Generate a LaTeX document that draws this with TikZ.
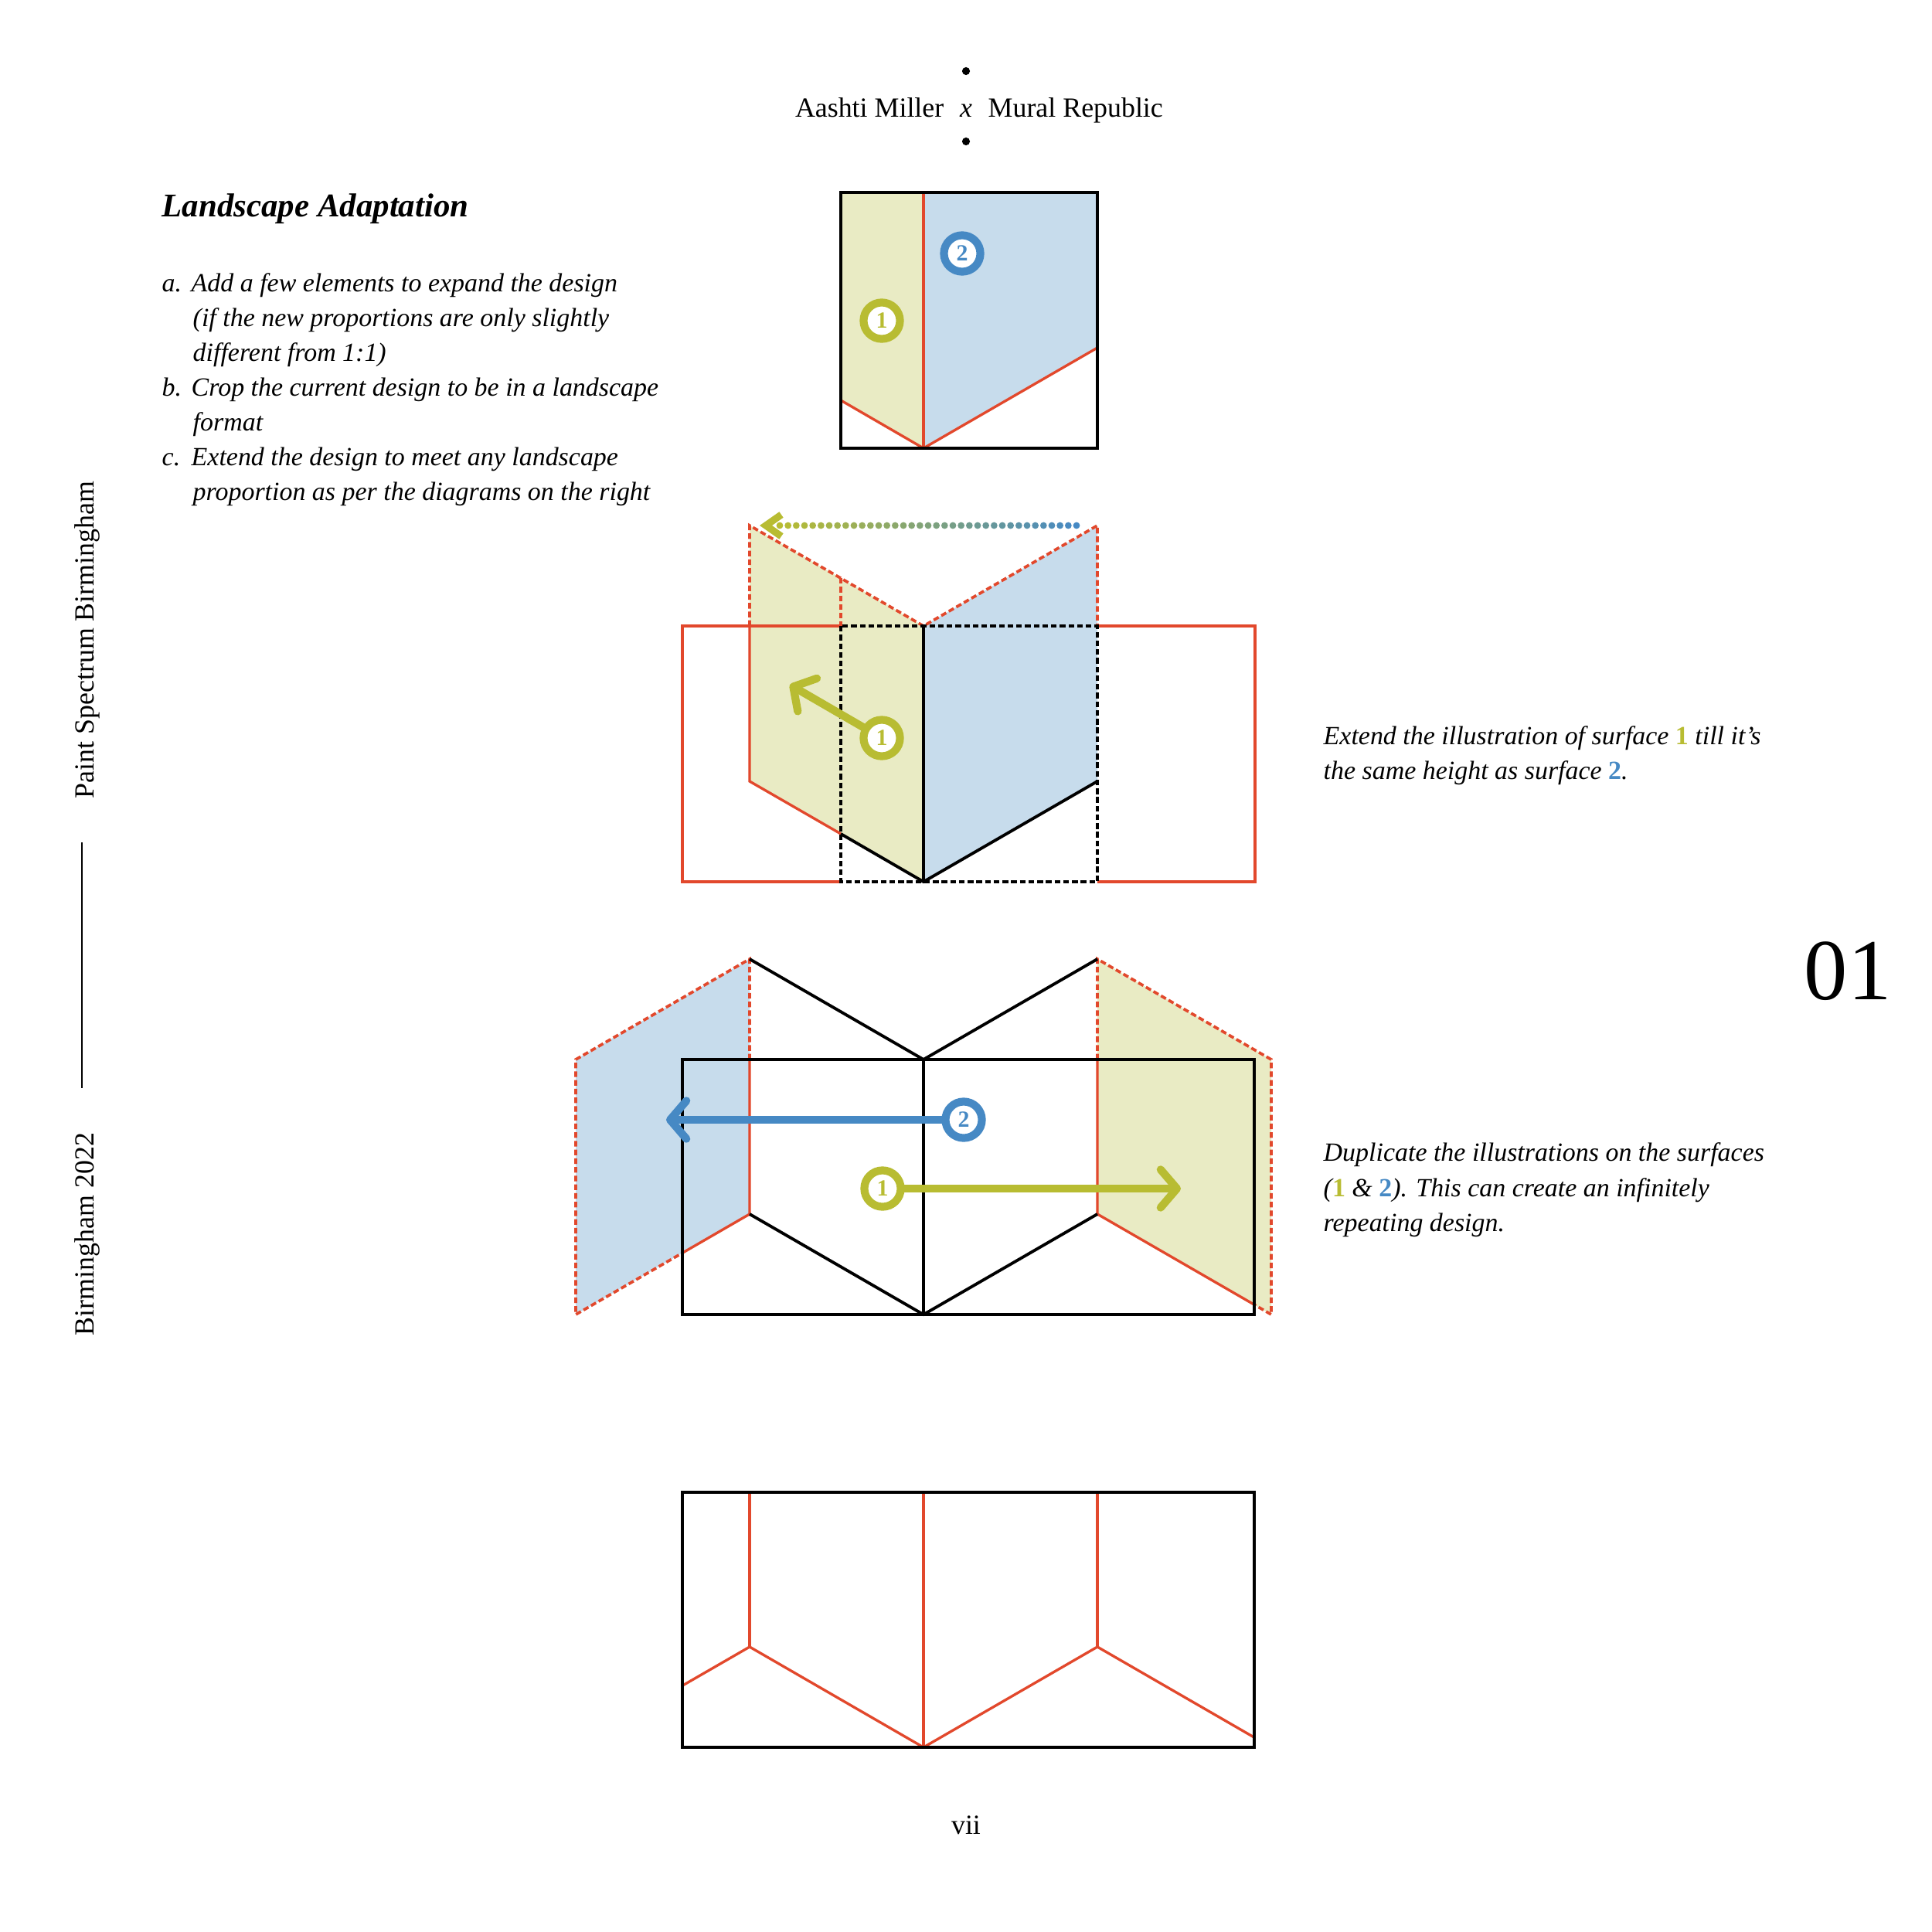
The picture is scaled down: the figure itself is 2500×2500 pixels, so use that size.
\documentclass[tikz,border=0pt]{standalone}
\usepackage{fontspec}
\setmainfont{Liberation Serif}
\usetikzlibrary{arrows.meta,calc}
\definecolor{redc}{RGB}{226,72,44}
\definecolor{olivec}{RGB}{184,188,50}
\definecolor{bluec}{RGB}{70,137,196}
\definecolor{yfill}{RGB}{233,235,196}
\definecolor{bfill}{RGB}{199,220,236}
\tikzset{
  blk/.style={draw=black, line width=1.1pt, line join=miter},
  redl/.style={draw=redc, line width=0.95pt},
  redd/.style={draw=redc, line width=1.05pt, dash pattern=on 2.1pt off 1.1pt},
  blkd/.style={draw=black, line width=1pt, dash pattern=on 2.1pt off 1.1pt},
  ring/.style={circle, line width=2.9pt, fill=white, minimum size=13.4pt, inner sep=0pt,
    font=\fontsize{8.5pt}{9pt}\selectfont\bfseries},
  ringY/.style={ring, draw=olivec, text=olivec},
  ringB/.style={ring, draw=bluec, text=bluec},
  arrY/.style={draw=olivec, line width=2.9pt, line cap=round, -{Straight Barb[round,length=6pt,width=14pt]}},
  arrB/.style={draw=bluec, line width=2.9pt, line cap=round, -{Straight Barb[round,length=6pt,width=14pt]}},
  body/.style={font=\fontsize{9.65pt}{11pt}\selectfont\itshape, anchor=base west, inner sep=0pt},
  plain/.style={font=\fontsize{10.2pt}{12pt}\selectfont, inner sep=0pt},
}
\begin{document}
\begin{tikzpicture}[x=0.01cm,y=-0.01cm]
\useasboundingbox (0,0) rectangle (2500,2500);
\fill[white] (0,0) rectangle (2500,2500);

% ---------- header ----------
\fill (1250,92) circle[radius=1.45pt];
\fill (1250,183) circle[radius=1.45pt];
\node[plain, anchor=base] (hx) at (1250,152) {\itshape x};
\node[plain, anchor=base east] (ha) at (1222,152) {Aashti Miller};
\node[plain, anchor=base west] (hm) at (1278,152) {Mural Republic};

% ---------- left text ----------
\node[anchor=base west, inner sep=0pt, font=\fontsize{12.2pt}{14pt}\selectfont\bfseries\itshape] (title) at (209,280) {Landscape Adaptation};
\node[body] (la) at (209,377) {a.};
\node[body] (la1) at (247,377) {Add a few elements to expand the design};
\node[body] (la2) at (249,422) {(if the new proportions are only slightly};
\node[body] (la3) at (249,467) {different from 1:1)};
\node[body] (lb) at (209,512) {b.};
\node[body] (lb1) at (247,512) {Crop the current design to be in a landscape};
\node[body] (lb2) at (249,557) {format};
\node[body] (lc) at (209,602) {c.};
\node[body] (lc1) at (247,602) {Extend the design to meet any landscape};
\node[body] (lc2) at (249,647) {proportion as per the diagrams on the right};

% ---------- sidebar ----------
\node[plain, rotate=90, anchor=base] (s1) at (121,828) {Paint Spectrum Birmingham};
\node[plain, rotate=90, anchor=base] (s2) at (121,1597) {Birmingham 2022};
\coordinate (sl1) at (106,1090);
\coordinate (sl2) at (106,1408);
\draw[line width=0.8pt] (sl1) -- (sl2);

% ---------- diagram 1 ----------
\fill[yfill] (1088,249) -- (1195,249) -- (1195,580) -- (1088,518) -- cycle;
\fill[bfill] (1195,249) -- (1420,249) -- (1420,450) -- (1195,580) -- cycle;
\draw[redl] (1195,249) -- (1195,580);
\draw[redl] (1088,518) -- (1195,580) -- (1420,450);
\draw[blk] (1088,249) rectangle (1420,580);
\node[ringY] (t1) at (1141,415) {1};
\node[ringB] (t2) at (1245,328) {2};

% ---------- diagram 2 ----------
\fill[yfill] (970,680) -- (1195,810) -- (1195,1141) -- (970,1011) -- cycle;
\fill[bfill] (1195,810) -- (1420,680) -- (1420,1011) -- (1195,1141) -- cycle;
\draw[redl] (1088,810) -- (883,810) -- (883,1141) -- (1088,1141);
\draw[redl] (1420,810) -- (1624,810) -- (1624,1141) -- (1420,1141);
\draw[redd] (970,810) -- (970,680) -- (1195,810) -- (1420,680) -- (1420,810);
\draw[redd] (1088,748) -- (1088,810);
\draw[redl] (970,810) -- (970,1011) -- (1088,1079);
\draw[blk] (1088,1079) -- (1195,1141) -- (1420,1011);
\draw[blk] (1195,810) -- (1195,1141);
\draw[blkd] (1088,810) rectangle (1420,1141);
% dotted gradient arrow
\coordinate (dS) at (1393,680);
\coordinate (dE) at (1009,680);
\foreach \i in {0,...,36}{
  \pgfmathsetmacro\pp{100*\i/36}
  \fill[bluec!\pp!olivec] ($(dE)!\i/36!(dS)$) circle[radius=1.25pt];
}
\draw[olivec, line width=2.6pt, line join=miter] (1011,666) -- (991,680) -- (1011,694);
\node[ringY] (m1) at (1141,955) {1};
\coordinate (m1tip) at (1022,886);
\draw[arrY] (m1) -- (m1tip);

% ---------- diagram 3 ----------
\fill[bfill] (745,1371) -- (970,1241) -- (970,1571) -- (745,1701) -- cycle;
\fill[yfill] (1420,1241) -- (1645,1371) -- (1645,1701) -- (1420,1571) -- cycle;
\draw[redd] (970,1371) -- (970,1241) -- (745,1371) -- (745,1701) -- (883,1621.3);
\draw[redl] (883,1621.3) -- (970,1571) -- (970,1371);
\draw[redd] (1420,1371) -- (1420,1241) -- (1645,1371) -- (1645,1701) -- (1623,1688.2);
\draw[redl] (1420,1371) -- (1420,1571) -- (1623,1688.2);
\draw[blk] (883,1371) rectangle (1623,1701);
\draw[blk] (970,1241) -- (1195,1371) -- (1420,1241);
\draw[blk] (970,1571) -- (1195,1701) -- (1420,1571);
\draw[blk] (1195,1371) -- (1195,1701);
\node[ringB] (d2) at (1247,1449) {2};
\node[ringY] (d1) at (1142,1538) {1};
\coordinate (d2tip) at (862,1449);
\coordinate (d1tip) at (1528,1538);
\draw[arrB] (d2) -- (d2tip);
\draw[arrY] (d1) -- (d1tip);

% ---------- diagram 4 ----------
\draw[redl] (1195,1931) -- (1195,2261);
\draw[redl] (970,1931) -- (970,2131);
\draw[redl] (1420,1931) -- (1420,2131);
\draw[redl] (883,2181.2) -- (970,2131) -- (1195,2261) -- (1420,2131) -- (1623,2248.2);
\draw[blk] (883,1931) rectangle (1623,2261);

% ---------- right text ----------
\node[body] (r1) at (1712,963) {Extend the illustration of surface \textcolor{olivec}{\upshape\bfseries 1} till it’s};
\node[body] (r2) at (1712,1008) {the same height as surface \textcolor{bluec}{\upshape\bfseries 2}.};
\node[body] (q1) at (1712,1502) {Duplicate the illustrations on the surfaces};
\node[body] (q2) at (1712,1548) {(\textcolor{olivec}{\upshape\bfseries 1} \& \textcolor{bluec}{\upshape\bfseries 2}). This can create an infinitely};
\node[body] (q3) at (1712,1593) {repeating design.};

\node[anchor=base west, inner sep=0pt, font=\fontsize{32pt}{34pt}\selectfont] (num) at (2334,1293) {01};
\node[plain, anchor=base] (pg) at (1250,2373) {vii};
\end{tikzpicture}
\end{document}
